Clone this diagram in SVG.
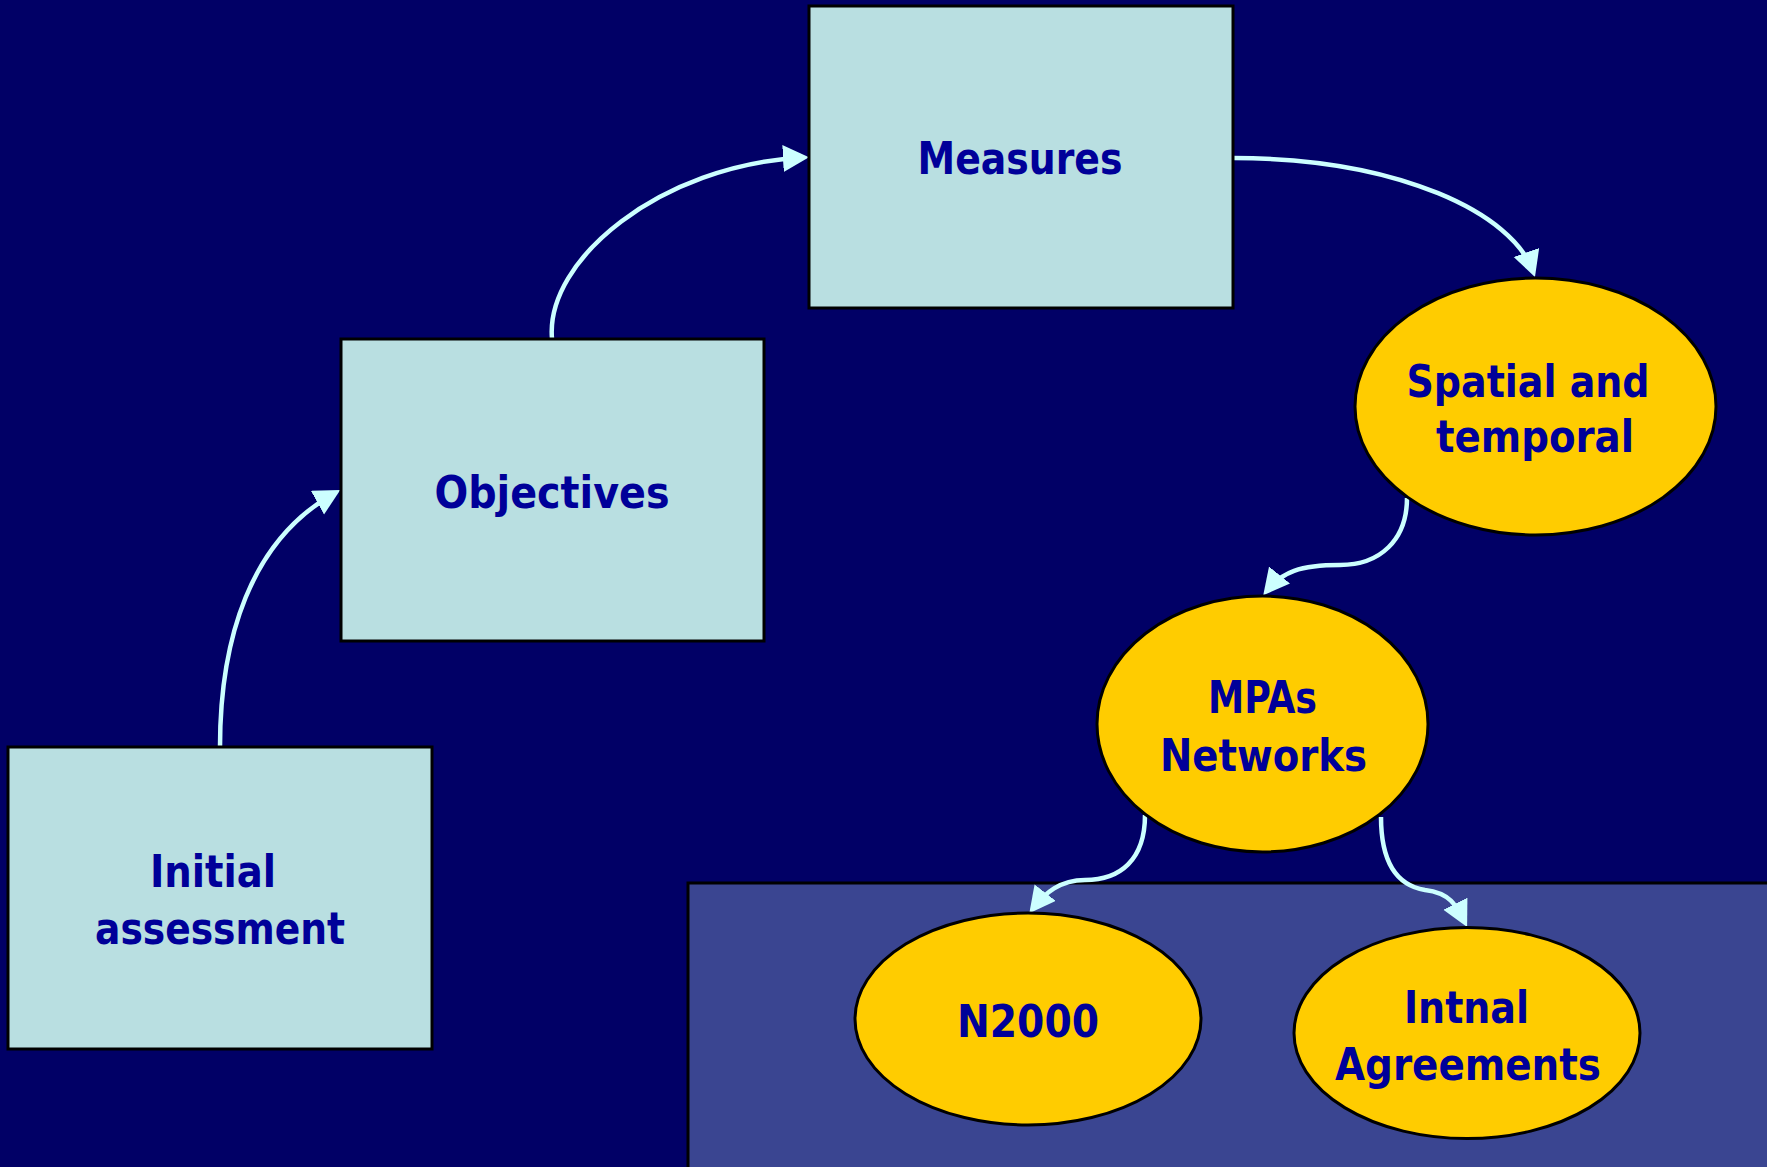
<svg xmlns="http://www.w3.org/2000/svg" width="1767" height="1167" viewBox="0 0 1767 1167">
<style>
.box{fill:#b9dfe1;stroke:#000;stroke-width:3}
.ell{fill:#ffcc00;stroke:#000;stroke-width:3}
.lbl{font-family:"DejaVu Sans","Liberation Sans",sans-serif;font-weight:bold;font-size:45px;fill:#000099;text-anchor:middle;font-stretch:condensed}
.con{fill:none;stroke:#ccffff;stroke-width:4.5}
</style>
<defs>
<marker id="ah" markerUnits="userSpaceOnUse" markerWidth="27" markerHeight="28" refX="20" refY="13.5" orient="auto">
<path d="M0,0 L26,13.5 L0,27 z" fill="#ccffff"/>
</marker>
</defs>
<rect x="0" y="0" width="1767" height="1167" fill="#010066"/>
<rect id="group-panel" x="688" y="883" width="1090" height="300" fill="#3a4591" stroke="#000" stroke-width="3"/>
<g id="connectors">
<path class="con" d="M220,747 C220,640 250,540 335,493" marker-end="url(#ah)"/>
<path class="con" d="M552,339 C545,260 660,165 803,157.5" marker-end="url(#ah)"/>
<path class="con" d="M1233,158 C1400,158 1513,214 1533,271.4" marker-end="url(#ah)"/>
<path class="con" d="M1407,498 C1407,540 1380,565 1340,565 C1300,565 1282,572 1267,590.6" marker-end="url(#ah)"/>
<path class="con" d="M1145,815 C1145,860 1120,880 1085,880 C1060,880 1045,893 1033,908.5" marker-end="url(#ah)"/>
<path class="con" d="M1381,817 C1381,860 1395,885 1425,890 C1450,893 1456,905 1464.4,921.6" marker-end="url(#ah)"/>
</g>
<g id="node-measures">
<rect class="box" x="809" y="6" width="424" height="302"/>
<text class="lbl" x="1020" y="174" textLength="205" lengthAdjust="spacingAndGlyphs">Measures</text>
</g>
<g id="node-objectives">
<rect class="box" x="341" y="339" width="423" height="302"/>
<text class="lbl" x="552" y="508" textLength="235" lengthAdjust="spacingAndGlyphs">Objectives</text>
</g>
<g id="node-initial">
<rect class="box" x="8" y="747" width="424" height="302"/>
<text class="lbl" x="213" y="887" textLength="126" lengthAdjust="spacingAndGlyphs">Initial</text>
<text class="lbl" x="220" y="944" textLength="250" lengthAdjust="spacingAndGlyphs">assessment</text>
</g>
<g id="node-spatial">
<ellipse class="ell" cx="1535.5" cy="406.5" rx="180.5" ry="128.5"/>
<text class="lbl" x="1528" y="397" textLength="243" lengthAdjust="spacingAndGlyphs">Spatial and</text>
<text class="lbl" x="1535" y="452" textLength="198" lengthAdjust="spacingAndGlyphs">temporal</text>
</g>
<g id="node-mpas">
<ellipse class="ell" cx="1262.5" cy="724" rx="165.5" ry="128"/>
<text class="lbl" x="1262.5" y="713" textLength="109" lengthAdjust="spacingAndGlyphs">MPAs</text>
<text class="lbl" x="1263.5" y="771" textLength="207" lengthAdjust="spacingAndGlyphs">Networks</text>
</g>
<g id="node-n2000">
<ellipse class="ell" cx="1028" cy="1019" rx="173" ry="106"/>
<text class="lbl" x="1028" y="1037" textLength="142" lengthAdjust="spacingAndGlyphs">N2000</text>
</g>
<g id="node-intnal">
<ellipse class="ell" cx="1467" cy="1033" rx="173" ry="105.5"/>
<text class="lbl" x="1466.5" y="1023" textLength="125" lengthAdjust="spacingAndGlyphs">Intnal</text>
<text class="lbl" x="1468" y="1080" textLength="266" lengthAdjust="spacingAndGlyphs">Agreements</text>
</g>
</svg>
